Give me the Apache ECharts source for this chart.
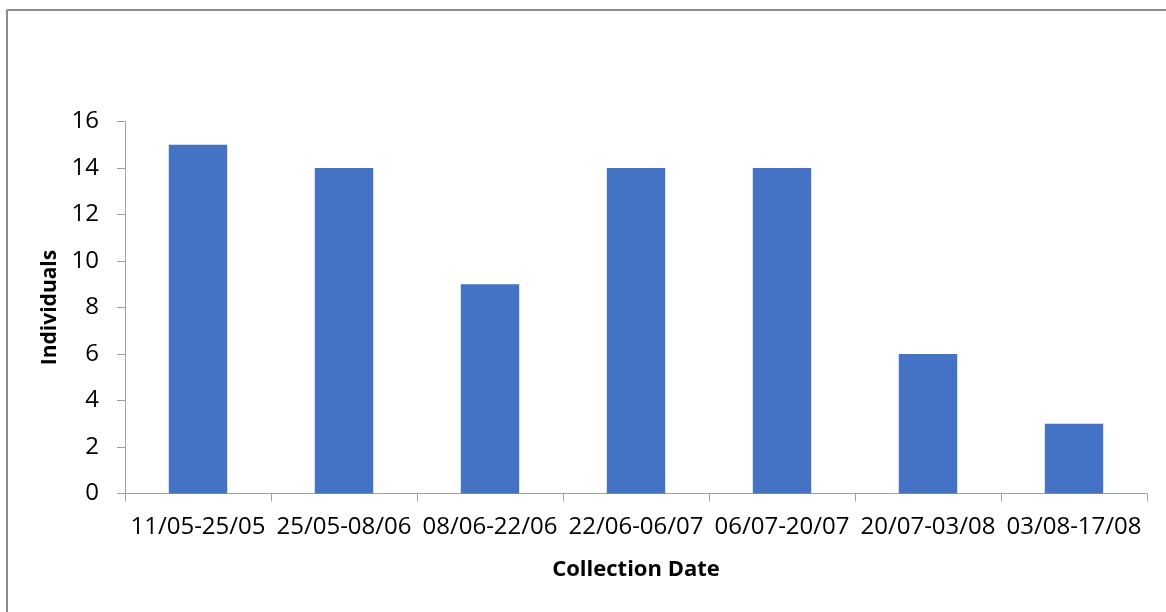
<!DOCTYPE html>
<html>
<head>
<meta charset="utf-8">
<script src="https://cdn.jsdelivr.net/npm/echarts@6/dist/echarts.min.js"></script>
<style>
html,body{margin:0;padding:0;background:#fff;}
#chart{width:1166px;height:612px;}
</style>
</head>
<body>
<div id="chart"></div>
<script>
const categories = ['11/05-25/05','25/05-08/06','08/06-22/06','22/06-06/07','06/07-20/07','20/07-03/08','03/08-17/08'];
const individuals = [15, 14, 9, 14, 14, 6, 3];
const yTicks = [0, 2, 4, 6, 8, 10, 12, 14, 16];

const chart = echarts.init(document.getElementById('chart'), null, {renderer:'canvas'});
const font = '"Open Sans", sans-serif';
chart.setOption({
  animation:false,
  backgroundColor:'#ffffff',
  graphic:[
    {type:'line', shape:{x1:7, y1:10, x2:1166, y2:10}, style:{stroke:'#8c8c8c', lineWidth:2}},
    {type:'line', shape:{x1:7, y1:10, x2:7, y2:612}, style:{stroke:'#8c8c8c', lineWidth:2}}
  ],
  grid:{left:125, right:19, top:121.5, bottom:118.5, containLabel:false},
  xAxis:{
    type:'category',
    data:categories,
    boundaryGap:true,
    name:'Collection Date',
    nameLocation:'middle',
    nameGap:65,
    nameTextStyle:{fontFamily:font, fontSize:22, fontWeight:'bold', color:'#000'},
    axisLine:{show:true, lineStyle:{color:'#a0a0a0', width:1}},
    axisTick:{show:true, length:8, alignWithLabel:false, lineStyle:{color:'#a0a0a0'}},
    axisLabel:{fontFamily:font, fontSize:24, color:'#000', margin:22, interval:0}
  },
  yAxis:{
    type:'value',
    min:yTicks[0], max:yTicks[yTicks.length-1], interval:2,
    name:'Individuals',
    nameLocation:'middle',
    nameGap:62,
    nameRotate:90,
    nameTextStyle:{fontFamily:font, fontSize:21, fontWeight:'bold', color:'#000'},
    axisLine:{show:true, lineStyle:{color:'#a0a0a0', width:1}},
    axisTick:{show:true, length:8, lineStyle:{color:'#a0a0a0'}},
    splitLine:{show:false},
    axisLabel:{fontFamily:font, fontSize:24, color:'#000', margin:26}
  },
  series:[{
    type:'bar',
    data:individuals,
    barWidth:'40%',
    itemStyle:{color:'#4472C4'}
  }]
});
</script>
</body>
</html>
